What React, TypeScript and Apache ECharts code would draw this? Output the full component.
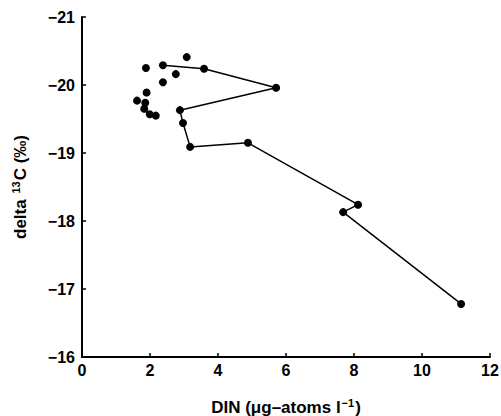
import React, { useEffect, useRef } from "react";
import * as echarts from "echarts";

// Connected trajectory (DIN, delta13C)
const pathDIN = [2.38, 3.59, 5.71, 2.88, 2.97, 3.18, 4.88, 8.12, 7.68, 11.15];
const pathDelta = [-20.29, -20.24, -19.96, -19.63, -19.44, -19.09, -19.15, -18.24, -18.13, -16.78];

// Unconnected points
const looseDIN = [3.08, 1.88, 2.76, 2.38, 1.90, 1.62, 1.86, 1.83, 1.99, 2.17];
const looseDelta = [-20.41, -20.25, -20.16, -20.04, -19.89, -19.77, -19.74, -19.65, -19.57, -19.55];

const xTicks = [0, 2, 4, 6, 8, 10, 12];
const yTicks = [-21, -20, -19, -18, -17, -16];

const FONT = "'Liberation Sans', Arial, sans-serif";

export default function App() {
  const ref = useRef<HTMLDivElement>(null);
  useEffect(() => {
    if (!ref.current) return;
    const chart = echarts.init(ref.current, undefined, { renderer: "svg" });
    const pathData = pathDIN.map((x, i) => [x, pathDelta[i]]);
    const looseData = looseDIN.map((x, i) => [x, looseDelta[i]]);
    const supStyle = {
      fontFamily: FONT, fontWeight: "bold", fontSize: 11, color: "#000",
      verticalAlign: "top", padding: [0, 1, 9, 1],
    };
    chart.setOption({
      animation: false,
      backgroundColor: "#ffffff",
      grid: { left: 82, right: 11, top: 17, bottom: 59, containLabel: false, outerBoundsMode: "none" },
      xAxis: {
        type: "value",
        min: xTicks[0],
        max: xTicks[xTicks.length - 1],
        interval: 2,
        name: "DIN (μg–atoms l{sup|−1})",
        nameLocation: "middle",
        nameGap: 40,
        nameTextStyle: {
          fontFamily: FONT,
          fontWeight: "bold",
          fontSize: 17,
          color: "#000",
          rich: { sup: supStyle },
        },
        axisLine: { show: true, onZero: false, lineStyle: { color: "#000", width: 2 } },
        axisTick: { show: true, inside: true, length: 4, lineStyle: { color: "#000", width: 1.5 } },
        axisLabel: {
          fontFamily: FONT,
          fontWeight: "bold",
          fontSize: 16,
          color: "#000",
          margin: 5,
        },
        splitLine: { show: false },
      },
      yAxis: {
        type: "value",
        inverse: true,
        min: yTicks[0],
        max: yTicks[yTicks.length - 1],
        interval: 1,
        name: "delta {sup|13}C (‰)",
        nameLocation: "middle",
        nameGap: 52,
        nameRotate: 90,
        nameTextStyle: {
          fontFamily: FONT,
          fontWeight: "bold",
          fontSize: 17,
          color: "#000",
          rich: { sup: supStyle },
        },
        axisLine: { show: true, onZero: false, lineStyle: { color: "#000", width: 2 } },
        axisTick: { show: true, inside: true, length: 4, lineStyle: { color: "#000", width: 1.5 } },
        axisLabel: {
          fontFamily: FONT,
          fontWeight: "bold",
          fontSize: 16,
          color: "#000",
          margin: 7,
          formatter: (v: number) => (v < 0 ? "−" + Math.abs(v) : String(v)),
        },
        splitLine: { show: false },
      },
      series: [
        {
          type: "line",
          data: pathData,
          symbol: "circle",
          symbolSize: 8,
          lineStyle: { color: "#000", width: 1.5 },
          itemStyle: { color: "#000", opacity: 1 },
          z: 3,
        },
        {
          type: "scatter",
          data: looseData,
          symbol: "circle",
          symbolSize: 8,
          itemStyle: { color: "#000", opacity: 1 },
          z: 3,
        },
      ],
    });
    return () => chart.dispose();
  }, []);
  return (
    <div
      ref={ref}
      style={{ position: "fixed", left: 0, top: 0, width: 501, height: 416, background: "#fff" }}
    />
  );
}
